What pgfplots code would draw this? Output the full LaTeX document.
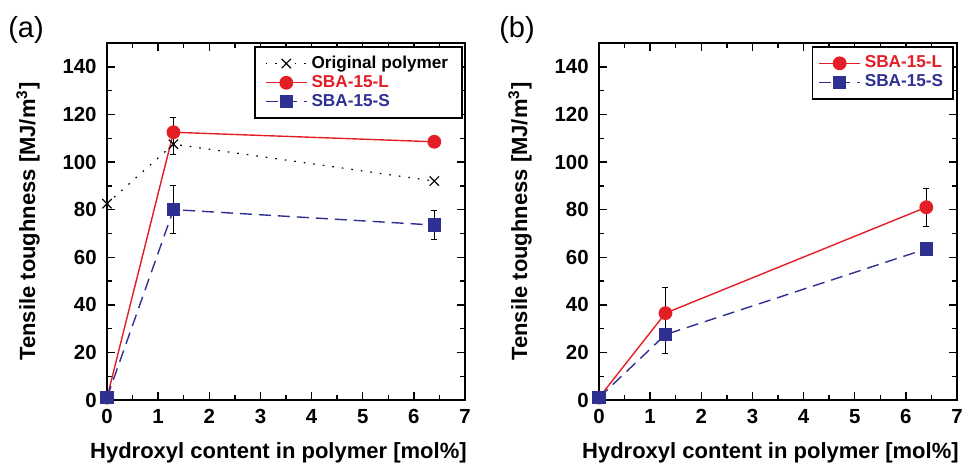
\documentclass[border=0pt]{standalone}
\usepackage{fontspec}
\setmainfont{Liberation Sans}
\usepackage{pgfplots}
\pgfplotsset{compat=1.18}
\definecolor{myred}{RGB}{228,30,38}
\definecolor{myblue}{RGB}{46,49,146}
\pgfplotsset{
 myaxis/.style={
  scale only axis, width=179pt, height=178.5pt,
  xmin=0,xmax=7,ymin=0,ymax=150,
  xtick={0,...,7}, ytick={0,20,...,140},
  minor x tick num=1, minor y tick num=1,
  tick align=inside, major tick length=4pt, minor tick length=2.5pt,
  every tick/.style={black, line width=0.7pt},
  axis line style={line width=0.8pt},
  clip=false,
  /pgf/number format/assume math mode=true,
  tick label style={font=\fontsize{10.2}{12}\selectfont\bfseries},
  xticklabel style={anchor=base, yshift=-11.5pt},
  yticklabel style={anchor=east, inner sep=0pt, xshift=-5pt},
  xlabel={Hydroxyl content in polymer [mol\%]},
  ylabel={Tensile toughness [MJ/m\textsuperscript{3}]},
  label style={font=\fontsize{11}{13}\selectfont\bfseries},
  xlabel style={at={(axis description cs:0.5,0)}, anchor=base, yshift=-29pt, xshift=-3.8pt},
  ylabel style={at={(axis description cs:-0.201,0.5)}, anchor=base},
  legend cell align=left,
  legend style={font=\fontsize{8.6}{10}\selectfont\bfseries, draw=black, line width=0.8pt, at={(1,1)}, anchor=north east, xshift=-1pt, yshift=-1.5pt, row sep=-2pt, inner ysep=2.5pt},
  legend image code/.code={\draw[mark repeat=2,mark phase=2] plot coordinates {(0cm,0cm) (0.36cm,0cm) (0.72cm,0cm)};},
  error bars/error bar style={black, solid, line width=0.6pt},
  error bars/error mark options={black, solid, rotate=90, mark size=1.5pt, line width=0.6pt},
 },
 origstyle/.style={black, line width=0.6pt, dash pattern=on 0.8pt off 4pt, mark=x, mark size=3.3pt, mark options={solid, line width=0.6pt}},
 lstyle/.style={myred, line width=0.7pt, mark=*, mark size=3.1pt, mark options={solid, fill=myred, draw=myred}},
 sstyle/.style={myblue, line width=0.7pt, dash pattern=on 6pt off 3.5pt, mark=square*, mark size=3pt, mark options={solid, fill=myblue, draw=myblue}},
}
\begin{document}
\begin{tikzpicture}
\useasboundingbox (0,0) rectangle (481.5pt,231.5pt);
\begin{axis}[myaxis, at={(53.5pt,31.5pt)}, anchor=south west, legend style={inner xsep=5pt}]
\addplot[origstyle] coordinates {(0,82.5) (1.3,107.5) (6.4,92)};
\addlegendentry{Original polymer}
\addplot[lstyle, error bars/.cd, y dir=both, y explicit] coordinates {(0,1) (1.3,112.5) += (0,6.3) -= (0,9.5) (6.4,108.5)};
\addlegendentry{\textcolor{myred}{SBA-15-L}}
\addplot[sstyle, error bars/.cd, y dir=both, y explicit] coordinates {(0,1) (1.3,80) +- (0,10) (6.4,73.5) +- (0,6)};
\addlegendentry{\textcolor{myblue}{SBA-15-S}}
\end{axis}
\begin{axis}[myaxis, at={(299.5pt,31.5pt)}, anchor=south west, legend style={inner xsep=3pt, xshift=-0.5pt}]
\addplot[lstyle, error bars/.cd, y dir=both, y explicit] coordinates {(0,1) (1.3,36.5) +- (0,10.7) (6.4,81) +- (0,8)};
\addlegendentry{\textcolor{myred}{SBA-15-L}}
\addplot[sstyle, error bars/.cd, y dir=both, y explicit] coordinates {(0,1) (1.3,27.5) +- (0,8) (6.4,63.5)};
\addlegendentry{\textcolor{myblue}{SBA-15-S}}
\end{axis}
\node[font=\fontsize{14.5}{16}\selectfont, anchor=base] at (13pt,213pt) {(a)};
\node[font=\fontsize{14.5}{16}\selectfont, anchor=base] at (258.5pt,213pt) {(b)};
\end{tikzpicture}
\end{document}
